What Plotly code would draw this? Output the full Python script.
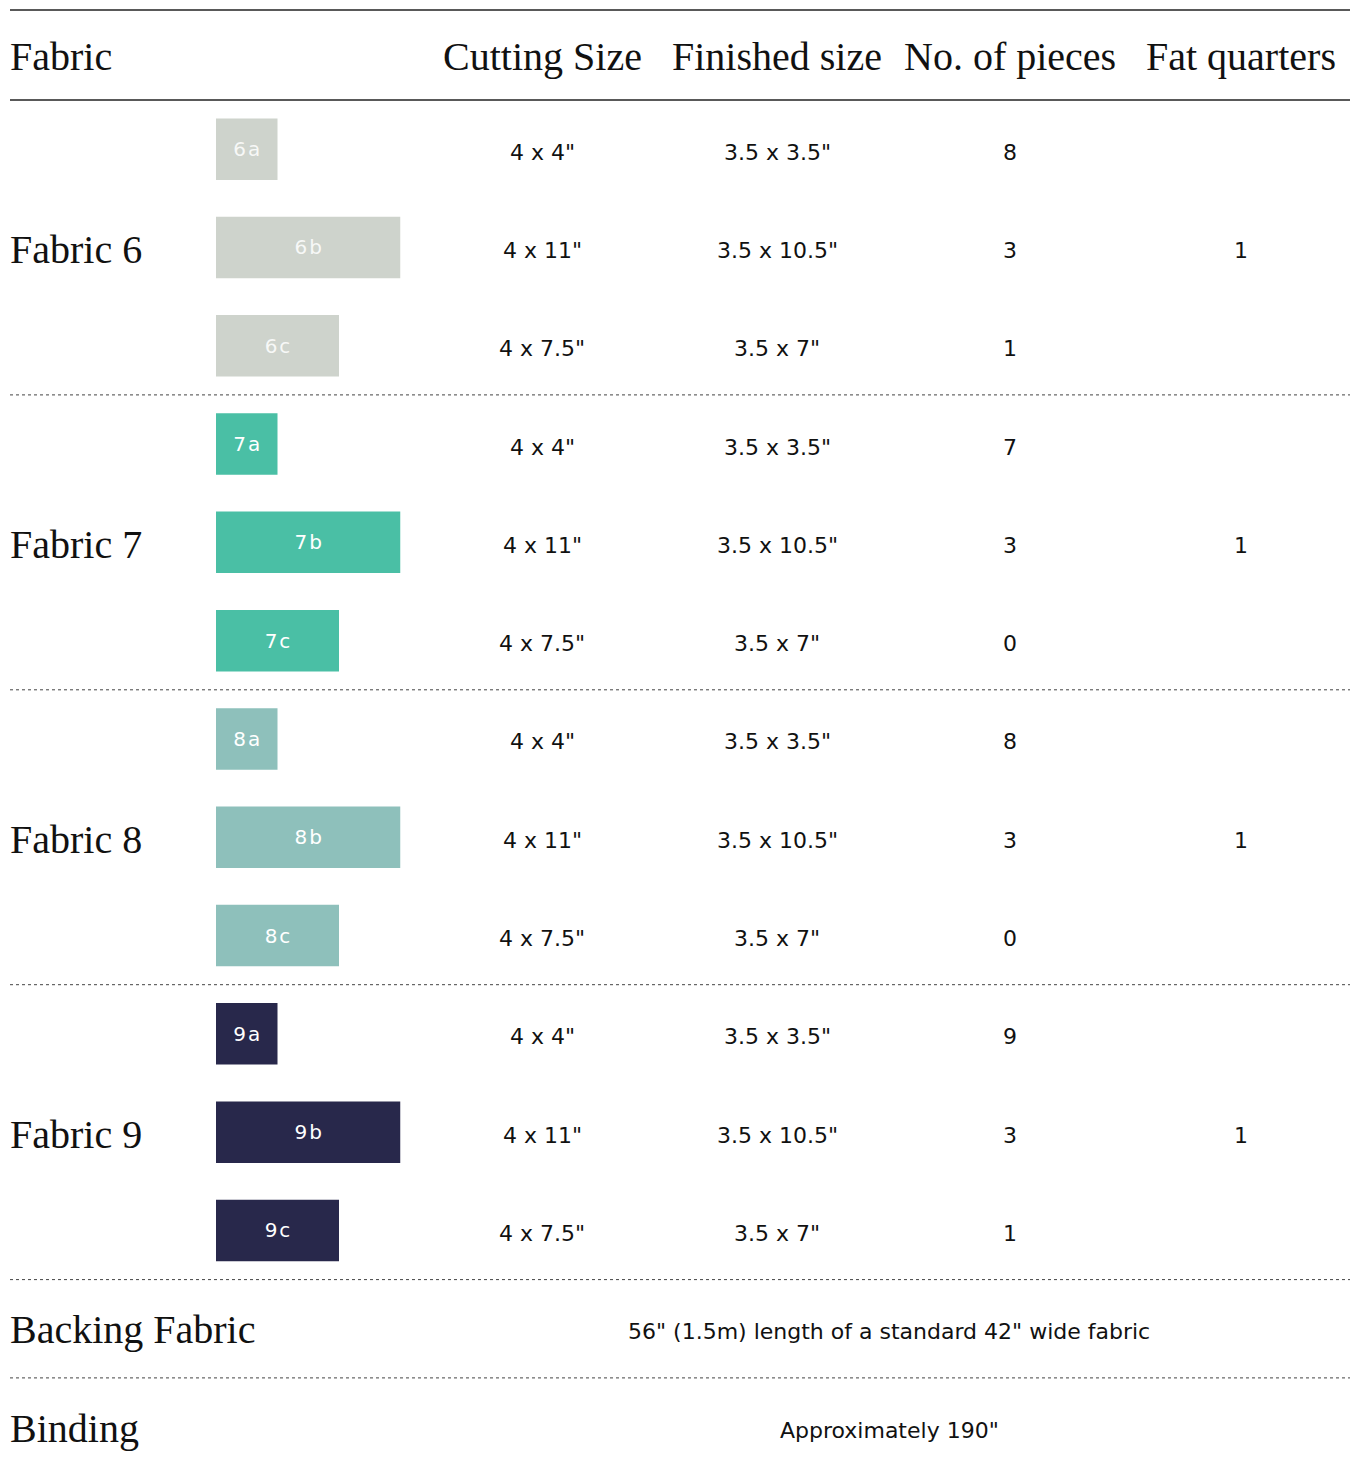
import plotly.graph_objects as go

# ---------------- data ----------------
headers = ["Fabric", "Cutting Size", "Finished size", "No. of pieces", "Fat quarters"]
fabrics = ["Fabric 6", "Fabric 7", "Fabric 8", "Fabric 9"]
fabric_ids = ["6", "7", "8", "9"]
piece_suffix = ["a", "b", "c"]
cutting_sizes = ['4 x 4"', '4 x 11"', '4 x 7.5"']
finished_sizes = ['3.5 x 3.5"', '3.5 x 10.5"', '3.5 x 7"']
finished_w = [3.5, 10.5, 7.0]
finished_h = [3.5, 3.5, 3.5]
pieces = [[8, 3, 1], [7, 3, 0], [8, 3, 0], [9, 3, 1]]
fat_quarters = [1, 1, 1, 1]
fabric_colors = ["#CED3CC", "#4ABFA5", "#8EC0BB", "#28284B"]
label_colors = ["rgba(255,255,255,0.85)", "#FFFFFF", "#FFFFFF", "#FFFFFF"]
extra_rows = ["Backing Fabric", "Binding"]
extra_text = ['56" (1.5m) length of a standard 42" wide fabric', 'Approximately 190"']

# ---------------- layout constants (page pixel coordinates) ----------------
OFF = 8                      # default body margin of the page
PAGE_W, PAGE_H = 1358, 1462
W, H = PAGE_W - OFF, PAGE_H - OFF
SERIF = "Liberation Serif, Times New Roman, serif"
SANS = "DejaVu Sans, Open Sans, sans-serif"
BODY = 22
top_line = 10
header_line = 100
row_h = 98.3
group_h = 3 * row_h
col_x = [8, 542, 777, 1010, 1241]
sw_left, sw_right = 216, 400.5
sw_range = max(finished_w)
px_per_in = (sw_right - sw_left) / sw_range

fig = go.Figure()
annotations = []
shapes = []


def ann(x, y, text, font, size, color="#111111", xanchor="center"):
    annotations.append(dict(x=x, y=y, xref="x", yref="y", text=text, showarrow=False,
                            xanchor=xanchor, yanchor="middle",
                            font=dict(family=font, size=size, color=color)))


def hline(y, dash="solid", width=1.5, color="#222222"):
    shapes.append(dict(type="line", xref="x", yref="y", x0=10, x1=1356, y0=y, y1=y,
                       line=dict(color=color, width=width, dash=dash)))


# header
hline(top_line)
hline(header_line)
hy = (top_line + header_line) / 2 + 1
ann(col_x[0], hy, headers[0], SERIF, 40, "#111111", "left")
for i in range(1, 5):
    ann(col_x[i], hy, headers[i], SERIF, 40)

# fabric groups
for g, fab in enumerate(fabrics):
    gtop = header_line + g * group_h
    centers = [gtop + row_h / 2 + k * row_h for k in range(3)]
    ann(col_x[0], centers[1] + 2, fab, SERIF, 40, "#111111", "left")
    for k in range(3):
        cy = centers[k] + 3
        ann(col_x[1], cy, cutting_sizes[k], SANS, BODY)
        ann(col_x[2], cy, finished_sizes[k], SANS, BODY)
        ann(col_x[3], cy, str(pieces[g][k]), SANS, BODY)
    ann(col_x[4], centers[1] + 3, str(fat_quarters[g]), SANS, BODY)
    fig.add_trace(go.Bar(
        orientation="h",
        x=finished_w,
        y=centers,
        base=0,
        width=[h * px_per_in for h in finished_h],
        marker=dict(color=fabric_colors[g], line=dict(width=0)),
        text=[fabric_ids[g] + "\u200a" + s for s in piece_suffix],
        textposition="inside",
        insidetextanchor="middle",
        textangle=0,
        textfont=dict(family=SANS, size=20, color=label_colors[g]),
        xaxis="x2", yaxis="y",
        hoverinfo="skip",
        showlegend=False,
    ))
    hline(gtop + group_h, dash="dot", width=1, color="#444444")

# backing & binding
base = header_line + 4 * group_h
for i, (lbl, txt) in enumerate(zip(extra_rows, extra_text)):
    cy = base + row_h / 2 + i * row_h
    ann(col_x[0], cy + 1, lbl, SERIF, 40, "#111111", "left")
    ann(889, cy + 3, txt, SANS, BODY)
    if i == 0:
        hline(base + row_h, dash="dot", width=1, color="#444444")

fig.update_layout(
    width=W, height=H,
    margin=dict(l=0, r=0, t=0, b=0),
    paper_bgcolor="white", plot_bgcolor="white",
    barmode="overlay",
    xaxis=dict(range=[OFF, PAGE_W], visible=False, domain=[0, 1], fixedrange=True),
    xaxis2=dict(range=[0, sw_range], visible=False, anchor="y",
                domain=[(sw_left - OFF) / W, (sw_right - OFF) / W], fixedrange=True),
    yaxis=dict(range=[PAGE_H, OFF], visible=False, fixedrange=True),
    annotations=annotations,
    shapes=shapes,
    uniformtext=dict(mode="show", minsize=10),
)
fig.write_html("out.html")
